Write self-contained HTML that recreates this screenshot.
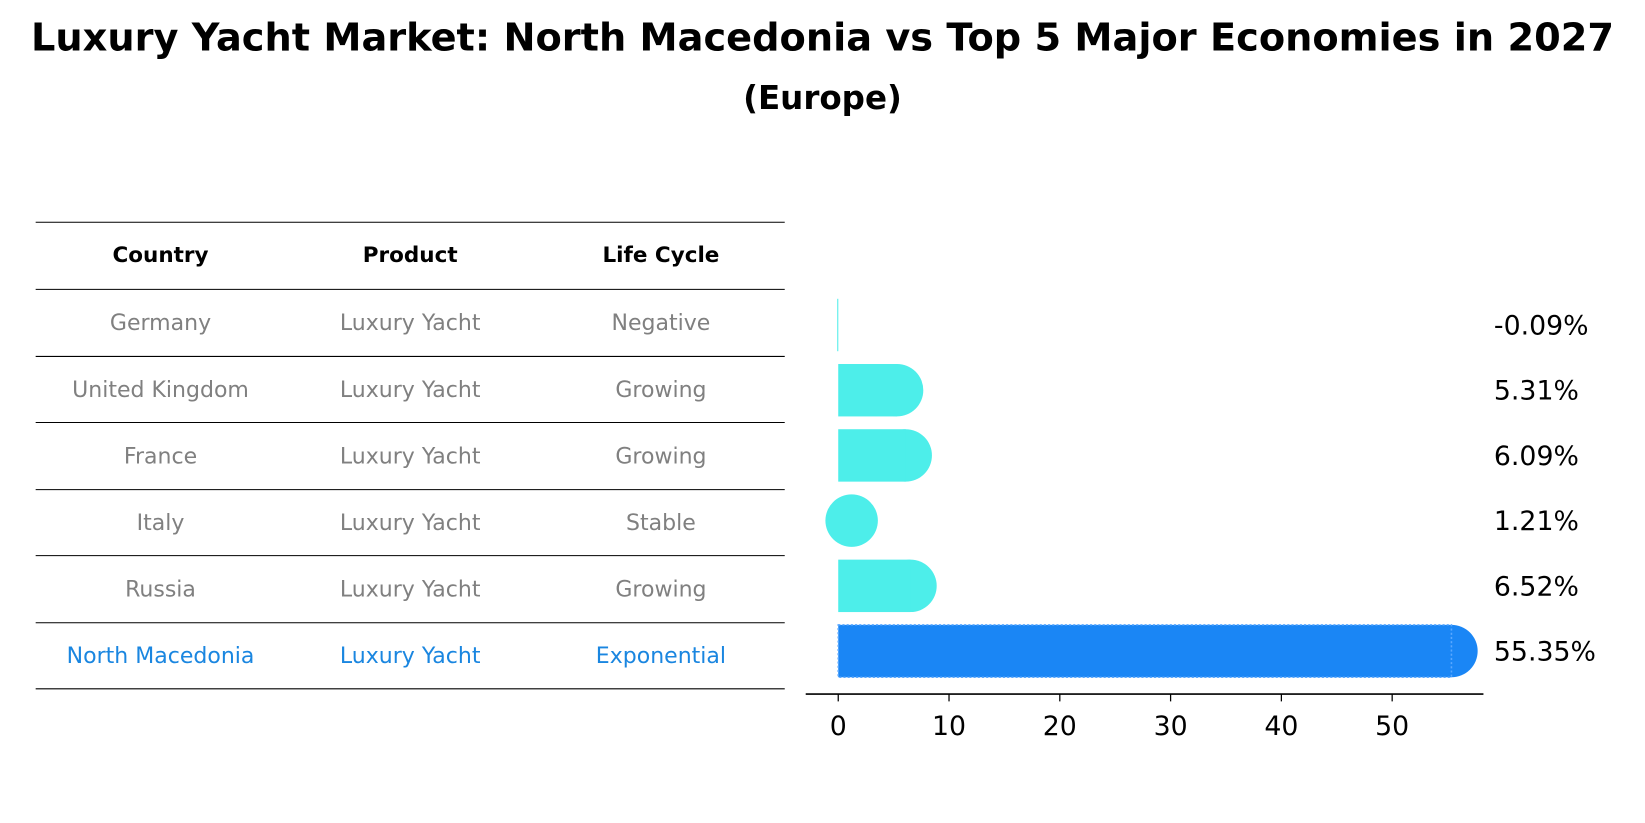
<!DOCTYPE html>
<html><head><meta charset="utf-8"><style>
body{margin:0;background:#fff;font-family:"Liberation Sans","DejaVu Sans",sans-serif}
svg{display:block}
</style></head><body>
<svg width="1645" height="823" viewBox="0 0 1568 785" preserveAspectRatio="none" xmlns="http://www.w3.org/2000/svg" font-family="DejaVu Sans, Liberation Sans, sans-serif">
<text x="784" y="48" text-anchor="middle" font-size="36.5" font-weight="bold">Luxury Yacht Market: North Macedonia vs Top 5 Major Economies in 2027</text>
<text x="784" y="104" text-anchor="middle" font-size="31" font-weight="bold">(Europe)</text>
<g id="table"></g>
<g id="bars"></g>
</svg>
<script>
const countries=["Germany","United Kingdom","France","Italy","Russia","North Macedonia"];
const products=["Luxury Yacht","Luxury Yacht","Luxury Yacht","Luxury Yacht","Luxury Yacht","Luxury Yacht"];
const lifeCycles=["Negative","Growing","Growing","Stable","Growing","Exponential"];
const values=[-0.09,5.31,6.09,1.21,6.52,55.35];
const valueLabels=["-0.09%","5.31%","6.09%","1.21%","6.52%","55.35%"];
const xTicks=[0,10,20,30,40,50];

const NS="http://www.w3.org/2000/svg";
function mk(tag,attrs,parent,text){const e=document.createElementNS(NS,tag);for(const k in attrs)e.setAttribute(k,attrs[k]);if(text!==undefined)e.textContent=text;parent.appendChild(e);return e;}
const tbl=document.getElementById('table');
const lineYs=[212,276,340,403,467,530,594,657];
lineYs.forEach(y=>{const l=mk('line',{x1:34,x2:748,y1:y,y2:y,stroke:'#000','stroke-width':1},tbl);

});
const colX=[153,391,630];
["Country","Product","Life Cycle"].forEach((h,i)=>{const t=mk('text',{x:colX[i],y:250,'text-anchor':'middle','font-size':20.5,'font-weight':'bold'},tbl,h);

});
countries.forEach((c,r)=>{const y=(lineYs[r+1]+lineYs[r+2])/2+7;const col=r===5?'#1a86e0':'#808080';
[c,products[r],lifeCycles[r]].forEach((v,i)=>{const t=mk('text',{x:colX[i],y:y,'text-anchor':'middle','font-size':21,fill:col},tbl,v);

});});

const g=document.getElementById('bars');
const x0=799,pxPer=10.56;
const xs=v=>x0+v*pxPer;
const yc=i=>310+i*62.2;
const bh=50,cap=25;
values.forEach((v,i)=>{const cy=yc(i);const isHL=i===5;const fill=isHL?'#1a86f5':'#4deeea';
if(v<0){const r=mk('rect',{x:xs(v),y:cy-bh/2,width:Math.max(1,xs(0)-xs(v)),height:bh,fill:fill},g);

}
else{
const e=mk('ellipse',{cx:xs(v),cy:cy,rx:cap,ry:bh/2,fill:fill},g);


const w=xs(v)-xs(0);
const r=mk('rect',{x:xs(0),y:cy-bh/2,width:w>cap?w:0,height:bh,fill:fill},g);
if(isHL){r.setAttribute('stroke','#5aa8ff');r.setAttribute('stroke-dasharray','2,2');r.setAttribute('stroke-width','1.5');}

}
const t=mk('text',{x:1424,y:cy+9,'font-size':25.5},g,valueLabels[i]);

});
const ax=mk('line',{x1:768,x2:1414,y1:662,y2:662,stroke:'#000','stroke-width':1.5},g);


xTicks.forEach(v=>{const tk=mk('line',{x1:xs(v),x2:xs(v),y1:662,y2:669,stroke:'#000','stroke-width':1.2},g);


const t=mk('text',{x:xs(v),y:701,'text-anchor':'middle','font-size':25.5},g,String(v));

});
</script>
</body></html>
